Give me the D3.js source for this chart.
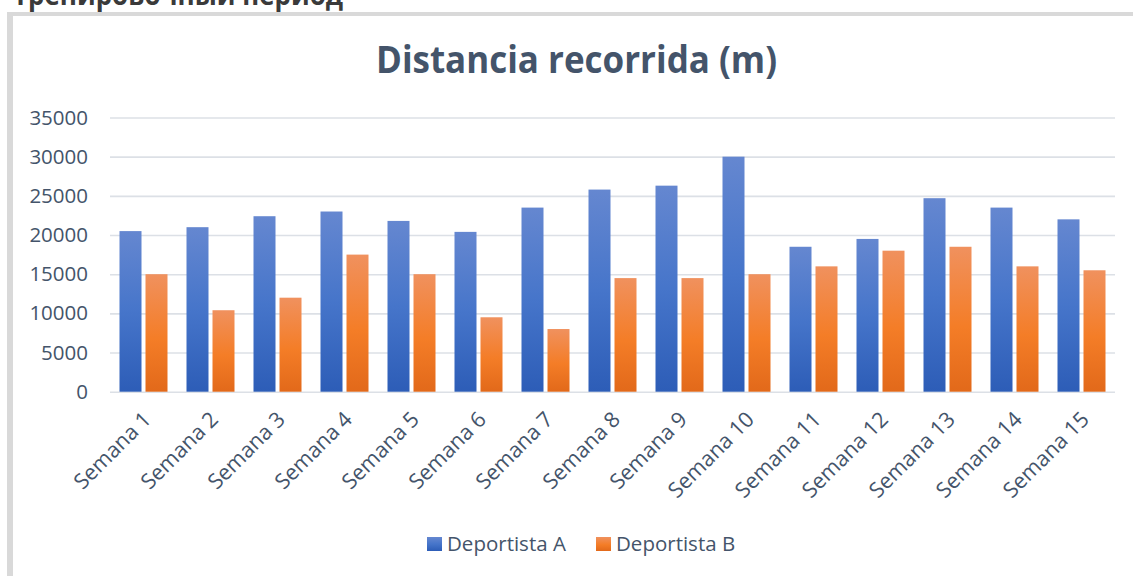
<!DOCTYPE html>
<html>
<head>
<meta charset="utf-8">
<script src="https://cdn.jsdelivr.net/npm/d3@7"></script>
<style>
  html, body { margin: 0; padding: 0; background: #ffffff; }
  svg { display: block; }
  text { font-family: "Open Sans", "Noto Sans", "DejaVu Sans", sans-serif; }
</style>
</head>
<body>
<svg id="chart" width="1133" height="576"></svg>
<script>
const categories = ["Semana 1","Semana 2","Semana 3","Semana 4","Semana 5","Semana 6","Semana 7","Semana 8","Semana 9","Semana 10","Semana 11","Semana 12","Semana 13","Semana 14","Semana 15"];
const seriesNames = ["Deportista A","Deportista B"];
const deportistaA = [20500,21000,22400,23000,21800,20400,23500,25800,26300,30000,18500,19500,24700,23500,22000];
const deportistaB = [15000,10400,12000,17500,15000,9500,8000,14500,14500,15000,16000,18000,18500,16000,15500];
const yTicks = [0,5000,10000,15000,20000,25000,30000,35000];
const titleText = "Distancia recorrida (m)";
const headingText = "Тренировочный период";

const seriesValues = [deportistaA, deportistaB];
const gradIds = ["gradA","gradB"];
const textColor = "#44546A";

const svg = d3.select("#chart");
svg.append("rect").attr("width",1133).attr("height",576).attr("fill","#ffffff");

// gradients
const defs = svg.append("defs");
const gA = defs.append("linearGradient").attr("id","gradA").attr("x1",0).attr("y1",0).attr("x2",0).attr("y2",1);
[[0,"#6587D0"],[0.5,"#4675CA"],[1,"#2D5DB7"]].forEach(s=>gA.append("stop").attr("offset",s[0]).attr("stop-color",s[1]));
const gB = defs.append("linearGradient").attr("id","gradB").attr("x1",0).attr("y1",0).attr("x2",0).attr("y2",1);
[[0,"#F0915E"],[0.55,"#F47D27"],[1,"#E2691A"]].forEach(s=>gB.append("stop").attr("offset",s[0]).attr("stop-color",s[1]));

// cut-off heading (partly outside the top edge, as in the reference)
svg.append("text").attr("x",13).attr("y",4.5)
  .attr("font-size",28).attr("font-weight","bold").attr("fill","#3A3A3A")
  .attr("textLength",330).attr("lengthAdjust","spacingAndGlyphs")
  .text(headingText);

// frame
svg.append("rect").attr("x",7).attr("y",12).attr("width",1126).attr("height",4).attr("fill","#D9D9D9");
svg.append("rect").attr("x",7).attr("y",12).attr("width",6).attr("height",564).attr("fill","#D9D9D9");

// title
svg.append("text").attr("x",576.5).attr("y",73).attr("text-anchor","middle")
  .attr("font-size",37).attr("font-weight","bold").attr("fill",textColor)
  .attr("textLength",401).attr("lengthAdjust","spacingAndGlyphs")
  .text(titleText);

const plotLeft = 110, plotRight = 1115;
const y = d3.scaleLinear().domain([0,35000]).range([391.7,117.5]);
const x0 = d3.scaleBand().domain(categories).range([plotLeft,plotRight]).padding(0);
const groupW = 48;
const x1 = d3.scaleBand().domain(seriesNames).range([0,groupW]).paddingInner(0.1538).paddingOuter(0);

// gridlines + y labels
const yAxis = d3.axisLeft(y).tickValues(yTicks).tickSize(-(plotRight-plotLeft)).tickPadding(22).tickFormat(d3.format("d"));
const gy = svg.append("g").attr("transform",`translate(${plotLeft},0)`).call(yAxis);
gy.select(".domain").remove();
gy.selectAll(".tick line").attr("stroke","#DCE0E6").attr("stroke-width",1.6);
gy.selectAll(".tick text").attr("font-size",20.5).attr("fill",textColor).attr("x",-22);

// bars
const groups = svg.append("g").selectAll("g").data(categories).join("g")
  .attr("transform",d=>`translate(${x0(d)+(x0.bandwidth()-groupW)/2},0)`);
groups.selectAll("rect").data((d,i)=>seriesNames.map((s,k)=>({s,k,v:seriesValues[k][i]}))).join("rect")
  .attr("x",d=>x1(d.s)).attr("width",x1.bandwidth())
  .attr("y",d=>y(d.v)).attr("height",d=>y(0)-y(d.v))
  .attr("fill",d=>`url(#${gradIds[d.k]})`);

// x axis labels
const xAxis = d3.axisBottom(x0).tickSize(0).tickPadding(0);
const gx = svg.append("g").attr("transform",`translate(0,${y(0)})`).call(xAxis);
gx.select(".domain").remove();
gx.selectAll(".tick text")
  .attr("font-size",21.5).attr("fill",textColor)
  .attr("text-anchor","end").attr("dy",null).attr("y",0)
  .attr("transform","translate(9,29) rotate(-45)");

// legend
const legendItems = [{name:seriesNames[0],x:427,k:0},{name:seriesNames[1],x:596,k:1}];
const lg = svg.append("g");
legendItems.forEach(it=>{
  lg.append("rect").attr("x",it.x).attr("y",537).attr("width",15).attr("height",14).attr("fill",`url(#${gradIds[it.k]})`);
  lg.append("text").attr("x",it.x+20).attr("y",551).attr("font-size",20.5).attr("fill",textColor).text(it.name);
});
</script>
</body>
</html>
